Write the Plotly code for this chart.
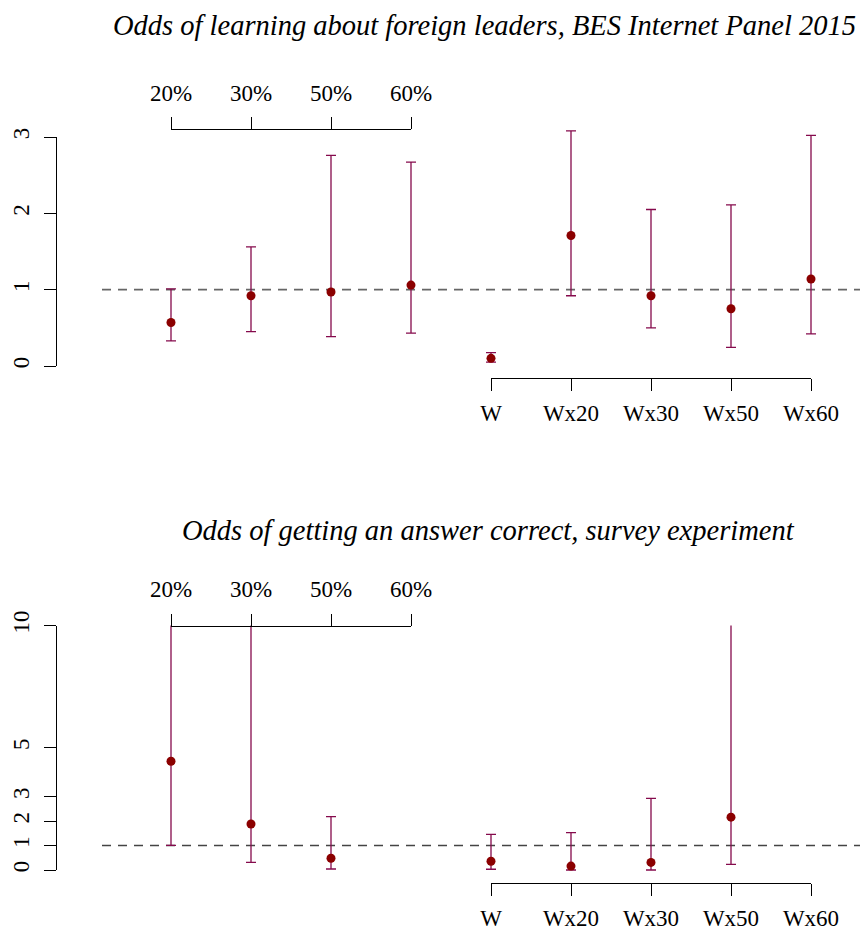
import plotly.graph_objects as go

# page body adds an 8px margin; figure is sized so it still fits the window
OFF = 8
W, H = 868 - OFF, 927 - OFF

categories = ['20%', '30%', '50%', '60%', 'W', 'Wx20', 'Wx30', 'Wx50', 'Wx60']
top_cats = categories[:4]
bottom_cats = categories[4:]

# Panel 1: BES Internet Panel 2015
top_est = [0.57, 0.92, 0.97, 1.06, 0.10, 1.71, 0.92, 0.75, 1.14]
top_lo = [0.33, 0.45, 0.385, 0.43, 0.05, 0.92, 0.50, 0.245, 0.42]
top_hi = [1.01, 1.56, 2.76, 2.67, 0.175, 3.08, 2.05, 2.11, 3.02]

# Panel 2: survey experiment (upper limits of 12 run off the top of the axis)
bot_est = [4.45, 1.88, 0.48, None, 0.36, 0.16, 0.31, 2.16, None]
bot_lo = [1.01, 0.31, 0.04, None, 0.03, 0.0, 0.0, 0.23, None]
bot_hi = [12.0, 12.0, 2.18, None, 1.46, 1.53, 2.93, 12.0, None]

top_yticks = [0, 1, 2, 3]
bot_yticks = [0, 1, 2, 3, 5, 10]

pos = list(range(1, len(categories) + 1))


def fx(p):
    return (p - OFF) / W


def fy(p):
    return 1 - (p - OFF) / H


def err(est, lo, hi):
    plus = [None if e is None else h - e for e, h in zip(est, hi)]
    minus = [None if e is None else e - l for e, l in zip(est, lo)]
    return plus, minus


PT_COL = '#8B0000'
BAR_COL = '#850A4C'
FONT = 'Liberation Serif'
TICKFONT = dict(family=FONT, size=23, color='black')

fig = go.Figure()

for est, lo, hi, xa, ya in [(top_est, top_lo, top_hi, 'x', 'y'),
                            (bot_est, bot_lo, bot_hi, 'x2', 'y2')]:
    plus, minus = err(est, lo, hi)
    fig.add_trace(go.Scatter(
        x=pos, y=est, mode='markers', xaxis=xa, yaxis=ya,
        marker=dict(color=PT_COL, size=9),
        error_y=dict(type='data', array=plus, arrayminus=minus, symmetric=False,
                     color=BAR_COL, thickness=1.3, width=5),
        showlegend=False, hoverinfo='skip'))

# dummy traces so decorative axes are drawn
for xa, ya in [('x3', 'y3'), ('x4', 'y3'), ('x5', 'y4'), ('x6', 'y4')]:
    fig.add_trace(go.Scatter(x=[None], y=[None], xaxis=xa, yaxis=ya, mode='markers',
                             showlegend=False, hoverinfo='skip'))

# scales (reference pixel geometry)
xr = [1 + (OFF - 171) / 80, 1 + (868 - 171) / 80]
k1 = (366 - 137) / 3.0
k2 = (870 - 625.5) / 10.0

hidden = dict(visible=False, showgrid=False, zeroline=False, fixedrange=True,
              automargin=False)

dec_common = dict(showline=True, linecolor='black', linewidth=1, ticks='outside',
                  ticklen=12, tickwidth=1, tickcolor='black', showgrid=False,
                  zeroline=False, tickfont=TICKFONT, anchor='free', fixedrange=True,
                  automargin=False)

fig.update_layout(
    template='none',
    width=W, height=H,
    margin=dict(l=0, r=0, t=0, b=0, pad=0),
    paper_bgcolor='white', plot_bgcolor='rgba(0,0,0,0)',
    showlegend=False,
    xaxis=dict(domain=[0, 1], range=xr, anchor='y', **hidden),
    yaxis=dict(domain=[fy(400), fy(100)], range=[(366 - 400) / k1, (366 - 100) / k1],
               anchor='x', **hidden),
    xaxis2=dict(domain=[0, 1], range=xr, anchor='y2', **hidden),
    yaxis2=dict(domain=[fy(900), fy(625.5)], range=[(870 - 900) / k2, 10],
                anchor='x2', **hidden),
    yaxis3=dict(domain=[fy(366), fy(137)], range=[0, 3], position=fx(56), side='left',
                tickmode='array', tickvals=top_yticks, ticktext=[str(v) for v in top_yticks],
                tickangle=-90, ticklabelstandoff=6, **dec_common),
    xaxis3=dict(domain=[fx(171), fx(411)], range=[1, 4], position=fy(129), side='top',
                tickmode='array', tickvals=pos[:4], ticktext=top_cats,
                ticklabelstandoff=7, **dec_common),
    xaxis4=dict(domain=[fx(491), fx(811)], range=[5, 9], position=fy(378), side='bottom',
                tickmode='array', tickvals=pos[4:], ticktext=bottom_cats,
                ticklabelstandoff=2, **dec_common),
    yaxis4=dict(domain=[fy(870), fy(625.5)], range=[0, 10], position=fx(56), side='left',
                tickmode='array', tickvals=bot_yticks, ticktext=[str(v) for v in bot_yticks],
                tickangle=-90, ticklabelstandoff=6, **dec_common),
    xaxis5=dict(domain=[fx(171), fx(411)], range=[1, 4], position=fy(625.5), side='top',
                tickmode='array', tickvals=pos[:4], ticktext=top_cats,
                ticklabelstandoff=7, **dec_common),
    xaxis6=dict(domain=[fx(491), fx(811)], range=[5, 9], position=fy(883), side='bottom',
                tickmode='array', tickvals=pos[4:], ticktext=bottom_cats,
                ticklabelstandoff=2, **dec_common),
    shapes=[
        dict(type='line', xref='paper', yref='y', x0=fx(102), x1=1, y0=1, y1=1,
             line=dict(color='#666666', width=1.8, dash='9px,7px'), layer='below'),
        dict(type='line', xref='paper', yref='y2', x0=fx(102), x1=1, y0=1, y1=1,
             line=dict(color='#444444', width=1.5, dash='9px,7px'), layer='below'),
    ],
    annotations=[
        dict(text='<i>Odds of learning about foreign leaders, BES Internet Panel 2015</i>',
             xref='paper', yref='paper', x=fx(484), y=fy(25), xanchor='center',
             yanchor='middle', showarrow=False, font=dict(family=FONT, size=28.5, color='black')),
        dict(text='<i>Odds of getting an answer correct, survey experiment</i>',
             xref='paper', yref='paper', x=fx(488), y=fy(530), xanchor='center',
             yanchor='middle', showarrow=False, font=dict(family=FONT, size=28.5, color='black')),
    ],
)

fig.write_html('out.html')
